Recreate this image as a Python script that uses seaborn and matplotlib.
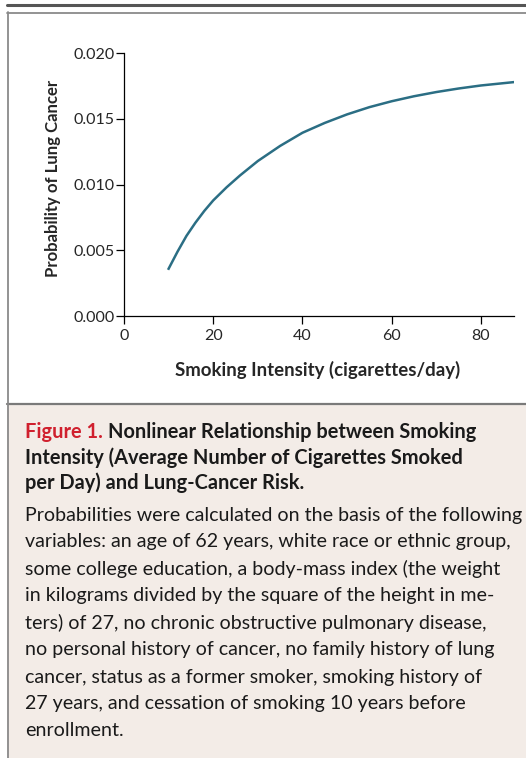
import matplotlib
matplotlib.use("Agg")
import matplotlib.pyplot as plt
import seaborn as sns
import pandas as pd
from matplotlib.lines import Line2D
from matplotlib.patches import Rectangle

# values
intensity = [10, 12, 14, 16, 18, 20, 23, 26, 30, 35, 40, 45, 50, 55, 60, 65, 70, 75, 80, 87.2]
probability = [0.0036, 0.0049, 0.0061, 0.0071, 0.0080, 0.0088, 0.0098, 0.0107, 0.0118, 0.01295,
               0.01395, 0.0147, 0.01535, 0.0159, 0.01635, 0.01673, 0.01705, 0.01732, 0.01755,
               0.0178]
x_ticks = [0, 20, 40, 60, 80]
y_ticks = [0.000, 0.005, 0.010, 0.015, 0.020]

title_lines = ["Nonlinear Relationship between Smoking",
               "Intensity (Average Number of Cigarettes Smoked",
               "per Day) and Lung-Cancer Risk."]
body_lines = ["Probabilities were calculated on the basis of the following",
              "variables: an age of 62 years, white race or ethnic group,",
              "some college education, a body-mass index (the weight",
              "in kilograms divided by the square of the height in me-",
              "ters) of 27, no chronic obstructive pulmonary disease,",
              "no personal history of cancer, no family history of lung",
              "cancer, status as a former smoker, smoking history of",
              "27 years, and cessation of smoking 10 years before",
              "enrollment."]

sns.set_style("ticks")
plt.rcParams['font.family'] = ['Lato', 'DejaVu Sans']

W, H = 526, 758
fig = plt.figure(figsize=(W / 100, H / 100), dpi=100)


def fx(px):
    return px / W


def fy(py):
    return 1 - py / H


# caption background and frame
fig.add_artist(Rectangle((fx(7), 0), 1 - fx(7), fy(405), transform=fig.transFigure,
                         facecolor="#f3ece7", edgecolor="none", zorder=0))
fig.add_artist(Line2D([fx(7), 1], [fy(5), fy(5)], transform=fig.transFigure,
                      color="#555555", lw=2.2))
fig.add_artist(Line2D([fx(7), 1], [fy(12.5), fy(12.5)], transform=fig.transFigure,
                      color="#8a8a8a", lw=1.3))
fig.add_artist(Line2D([fx(7), 1], [fy(404.5), fy(404.5)], transform=fig.transFigure,
                      color="#7a7a7a", lw=1.6))
fig.add_artist(Line2D([fx(7.5), fx(7.5)], [fy(12), 0], transform=fig.transFigure,
                      color="#8a8a8a", lw=1.3))

ax = fig.add_axes([fx(124), fy(316), fx(513.5) - fx(124), fy(53.3) - fy(316)])
df = pd.DataFrame({"intensity": intensity, "probability": probability})
sns.lineplot(data=df, x="intensity", y="probability", ax=ax, color="#2b6e84",
             linewidth=1.8, solid_capstyle="projecting")

ax.set_xlim(0, 87.3)
ax.set_ylim(0, 0.020)
ax.set_xticks(x_ticks)
ax.set_yticks(y_ticks)
ax.set_yticklabels([f"{v:.3f}" for v in y_ticks])
ax.tick_params(axis="both", length=6, width=0.9, labelsize=11.5, color="black")
ax.tick_params(axis="y", pad=1)
ax.tick_params(axis="x", pad=3)
for s in ["top", "right"]:
    ax.spines[s].set_visible(False)
for s in ["left", "bottom"]:
    ax.spines[s].set_linewidth(0.9)
    ax.spines[s].set_color("black")
ax.set_xlabel("")
ax.set_ylabel("")

fig.text(fx(53), fy(178), "Probability of Lung Cancer", rotation=90, ha="center",
         va="center", fontsize=12.1, fontweight="bold")
fig.text(fx(318), fy(370), "Smoking Intensity (cigarettes/day)", ha="center",
         va="center", fontsize=13.4, fontweight="bold")

# caption title
t = fig.text(fx(25), fy(432), "Figure 1. ", ha="left", va="center", fontsize=14.4,
             fontweight="bold", color="#d0202e")
fig.canvas.draw()
bb = t.get_window_extent()
fig.text(bb.x1 / W, fy(432), title_lines[0], ha="left", va="center", fontsize=14.4,
         fontweight="bold", color="#1a1a1a")
for i, line in enumerate(title_lines[1:]):
    fig.text(fx(25), fy(457.5 + 25.5 * i), line, ha="left", va="center", fontsize=14.4,
             fontweight="bold", color="#1a1a1a")

for i, line in enumerate(body_lines):
    fig.text(fx(25), fy(515 + 27 * i), line, ha="left", va="center", fontsize=14.1,
             color="#1a1a1a")

fig.savefig("out.png", dpi=100)
